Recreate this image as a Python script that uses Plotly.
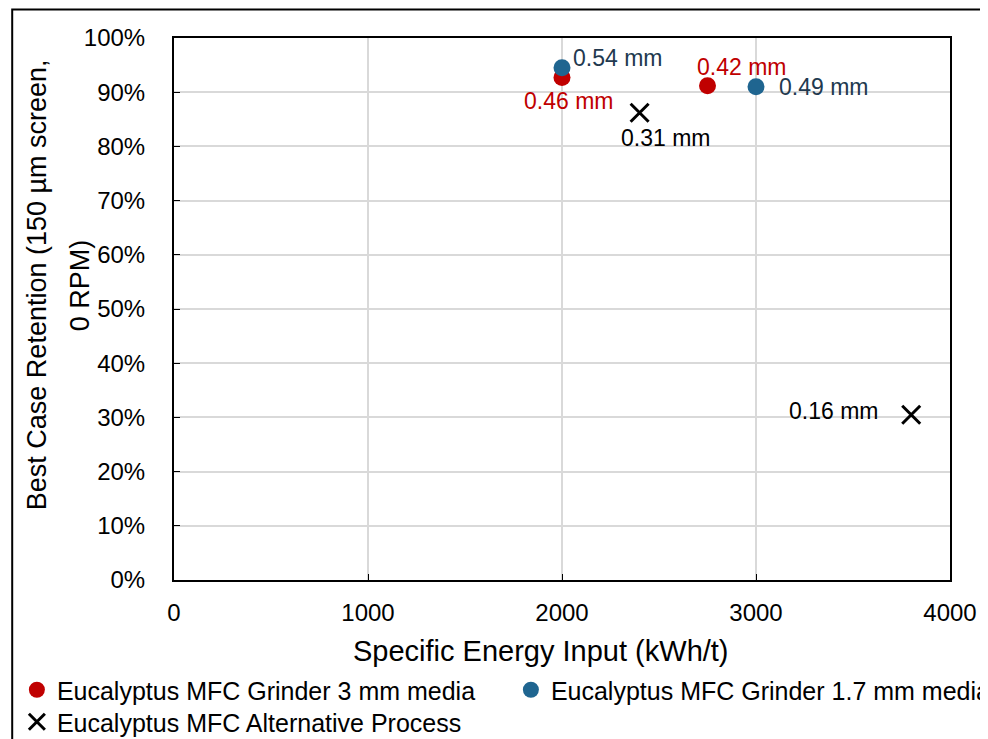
import plotly.graph_objects as go

# Data
red_x = [2000, 2750]
red_y = [0.927, 0.912]
red_labels = ["0.46 mm", "0.42 mm"]

blue_x = [2000, 3000]
blue_y = [0.945, 0.910]
blue_labels = ["0.54 mm", "0.49 mm"]

alt_x = [2400, 3800]
alt_y = [0.862, 0.305]
alt_labels = ["0.31 mm", "0.16 mm"]

x_ticks = [0, 1000, 2000, 3000, 4000]

RED = "#C00000"
BLUE = "#1F6590"
BLUE_TXT = "#22394F"
SANS = "Liberation Sans, Arial, sans-serif"

fig = go.Figure()
fig.add_trace(go.Scatter(x=red_x, y=red_y, mode="markers", name="Eucalyptus MFC Grinder 3 mm media",
                         marker=dict(color=RED, size=17), legend="legend"))
fig.add_trace(go.Scatter(x=blue_x, y=blue_y, mode="markers", name="Eucalyptus MFC Grinder 1.7 mm media",
                         marker=dict(color=BLUE, size=17), legend="legend2"))
fig.add_trace(go.Scatter(x=alt_x, y=alt_y, mode="markers", name="Eucalyptus MFC Alternative Process",
                         marker=dict(symbol="x-thin", size=18, line=dict(color="black", width=3), color="black"),
                         legend="legend3"))

# point labels (xshift, yshift, anchors)
red_pos = [dict(xshift=6, yshift=-23, xanchor="center"), dict(xshift=34, yshift=19, xanchor="center")]
blue_pos = [dict(xshift=9, yshift=10, xanchor="left"), dict(xshift=21, yshift=0, xanchor="left")]
alt_pos = [dict(xshift=26, yshift=-25, xanchor="center"), dict(xshift=-31, yshift=4, xanchor="right")]

for xs, ys, labs, pos, col in [(red_x, red_y, red_labels, red_pos, RED),
                               (blue_x, blue_y, blue_labels, blue_pos, BLUE_TXT),
                               (alt_x, alt_y, alt_labels, alt_pos, "black")]:
    for x, y, t, p in zip(xs, ys, labs, pos):
        fig.add_annotation(x=x, y=y, text=t, showarrow=False, yanchor="middle",
                           font=dict(size=23, color=col, family=SANS), **p)

# y axis title (two wrapped lines) as rotated annotations
fig.add_annotation(xref="paper", yref="paper", x=-0.1765, y=0.544, xanchor="center", yanchor="middle",
                   text="Best Case Retention (150 µm screen,", textangle=-90, showarrow=False,
                   font=dict(size=27, color="black", family=SANS))
fig.add_annotation(xref="paper", yref="paper", x=-0.121, y=0.544, xanchor="center", yanchor="middle",
                   text="0 RPM)", textangle=-90, showarrow=False,
                   font=dict(size=27, color="black", family=SANS))

# x axis title
fig.add_annotation(xref="paper", yref="paper", x=0.4725, y=0, yshift=-71, xanchor="center", yanchor="middle",
                   text="Specific Energy Input (kWh/t)", showarrow=False,
                   font=dict(size=29, color="black", family=SANS))

# outer frame
fig.add_shape(type="rect", xref="paper", yref="paper", x0=-0.2085, x1=1.07, y0=-0.32, y1=1.0525,
              line=dict(color="black", width=2), layer="above")

leg_common = dict(orientation="h", xref="container", yref="container", xanchor="left", yanchor="middle",
                  itemwidth=30, font=dict(size=25, color="black", family=SANS),
                  bgcolor="rgba(0,0,0,0)")

fig.update_layout(
    width=988, height=739,
    margin=dict(l=166, r=46, t=30, b=167),
    paper_bgcolor="white", plot_bgcolor="white",
    showlegend=True,
    legend=dict(x=0.009, y=0.0771, **leg_common),
    legend2=dict(x=0.509, y=0.0771, **leg_common),
    legend3=dict(x=0.009, y=0.0338, **leg_common),
    font=dict(family=SANS, color="black"),
)
fig.update_xaxes(range=[0, 4000], tickvals=x_ticks, tickformat="d",
                 showgrid=True, gridcolor="#D9D9D9", gridwidth=1.5,
                 showline=True, linecolor="black", linewidth=2, mirror=True,
                 ticks="inside", ticklen=6, tickcolor="black", zeroline=False,
                 tickfont=dict(size=24, family=SANS, color="black"), ticklabelstandoff=10)
fig.update_yaxes(range=[0, 1.0], dtick=0.1, tickformat=".0%",
                 showgrid=True, gridcolor="#D9D9D9", gridwidth=1.5,
                 showline=True, linecolor="black", linewidth=2, mirror=True,
                 ticks="inside", ticklen=6, tickcolor="black", zeroline=False,
                 tickfont=dict(size=24, family=SANS, color="black"), ticklabelstandoff=22)

fig.write_html("out.html")
